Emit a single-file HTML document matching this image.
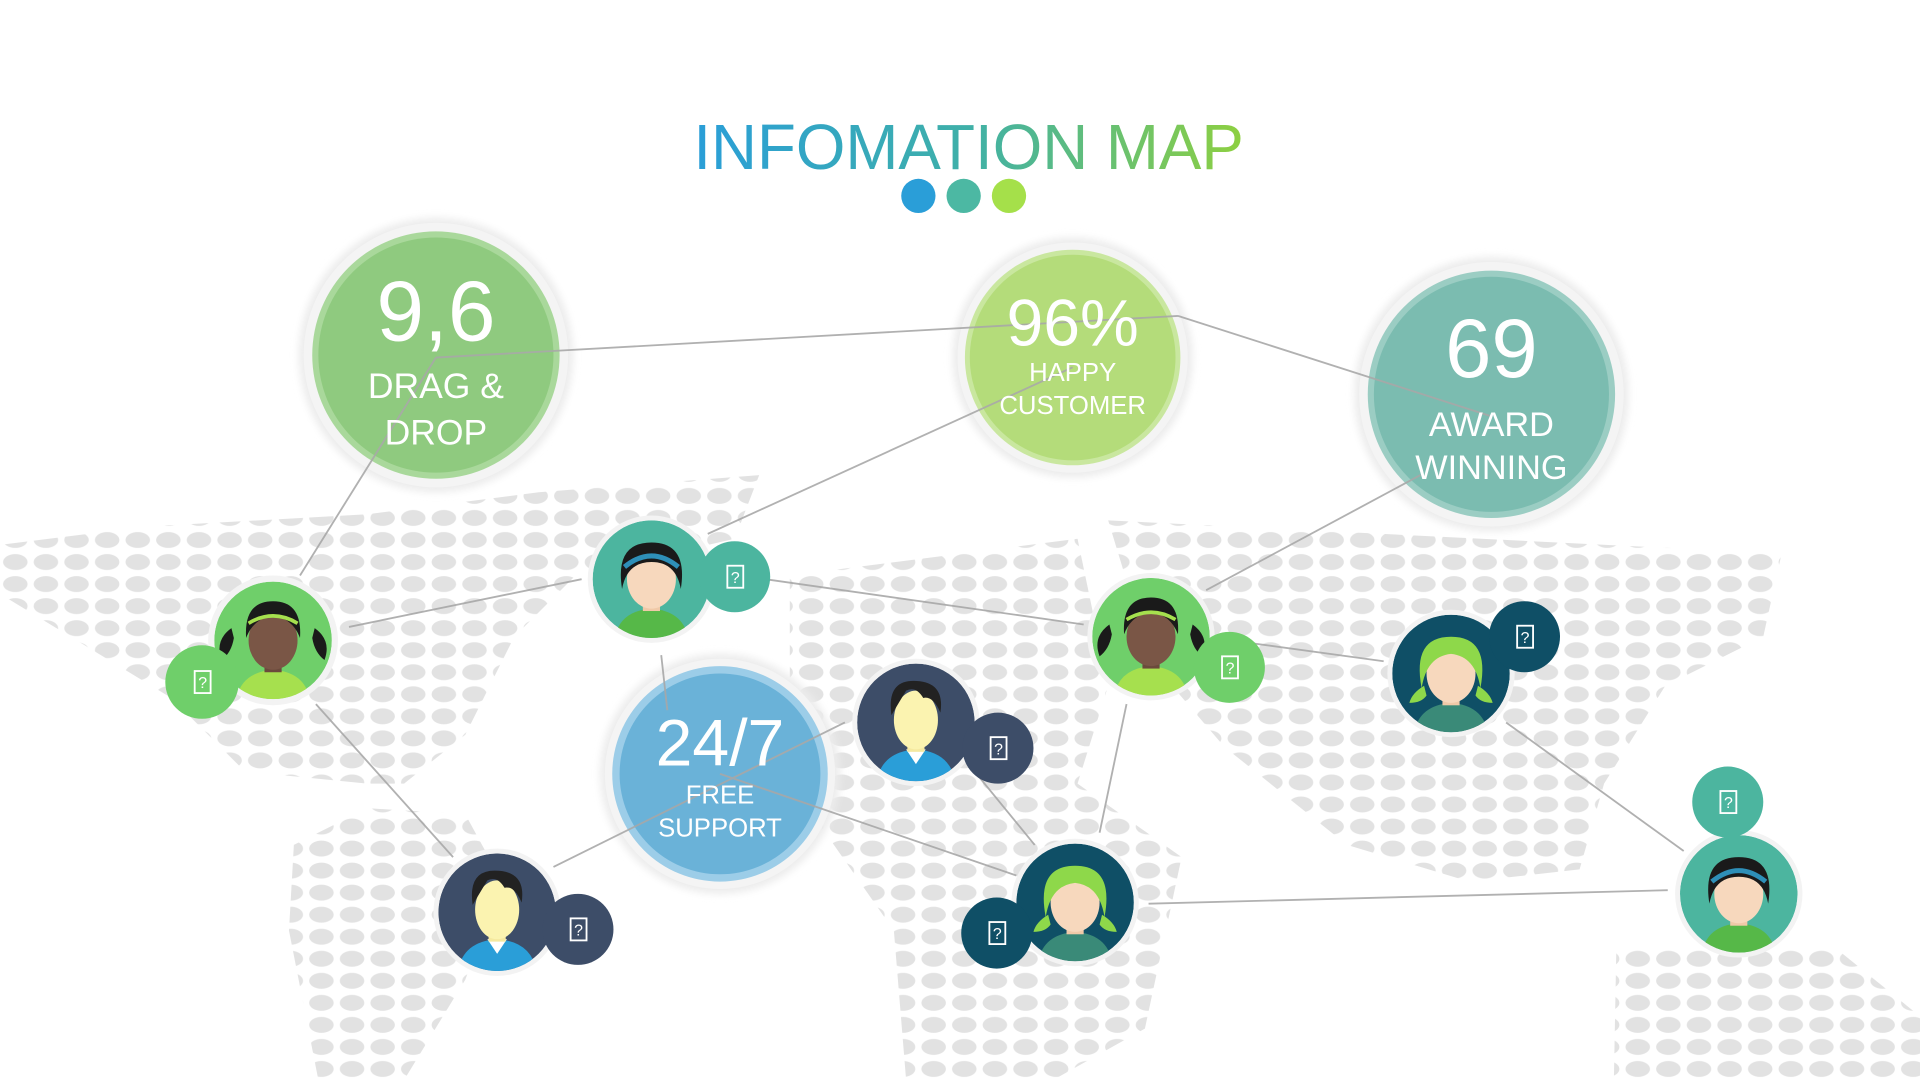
<!DOCTYPE html>
<html><head><meta charset="utf-8"><style>
html,body{margin:0;padding:0;background:#fff;width:1920px;height:1080px;overflow:hidden}
svg{display:block}
text{font-family:"Liberation Sans",sans-serif}
</style></head><body>
<svg width="1920" height="1080" viewBox="0 0 1568 882" xmlns="http://www.w3.org/2000/svg">
<defs>
<pattern id="dots" width="25" height="18" patternUnits="userSpaceOnUse">
<ellipse cx="12.5" cy="9" rx="10" ry="6.5" fill="#e2e2e2"/>
</pattern>
<linearGradient id="tg" x1="0" x2="1"><stop offset="0" stop-color="#2a9ed8"/><stop offset="0.5" stop-color="#3fb0a8"/><stop offset="1" stop-color="#8ed040"/></linearGradient>
<filter id="sh" x="-20%" y="-20%" width="140%" height="140%"><feGaussianBlur stdDeviation="3"/></filter>
<g id="girlP">
<circle r="48" fill="#6fcf6a"/>
<path d="M-34 -10 q-14 10 -8 26 q8 -6 10 -18z M34 -10 q14 10 8 26 q-8 -6 -10 -18z" fill="#1a1a1a"/>
<path d="M-30 48 q4 -22 30 -24 q26 2 30 24z" fill="#a6e04e"/>
<rect x="-7" y="10" width="14" height="16" fill="#6b4a3c"/>
<ellipse cx="0" cy="0" rx="20" ry="24" fill="#7a5646"/>
<path d="M-22 -2 q-2 -30 22 -30 q24 0 22 30 q-6 -16 -22 -18 q-16 2 -22 18z" fill="#1a1a1a"/>
<path d="M-20 -14 q20 -12 40 0" stroke="#a6e04e" stroke-width="3" fill="none"/>
</g>
<g id="girlB">
<path d="M-30 48 q4 -22 30 -24 q26 2 30 24z" fill="#56b848"/>
<rect x="-7" y="10" width="14" height="16" fill="#f0c9a8"/>
<ellipse cx="0" cy="0" rx="20" ry="24" fill="#f7d8bd"/>
<path d="M-24 8 q-6 -38 24 -38 q30 0 24 38 q-4 -22 -24 -22 q-20 0 -24 22z" fill="#1a1a1a"/>
<path d="M-22 -10 q22 -18 44 0" stroke="#2e8fb8" stroke-width="4" fill="none"/>
</g>
<g id="girlG">
<path d="M-30 48 q4 -22 30 -24 q26 2 30 24z" fill="#3a8a78"/>
<rect x="-7" y="10" width="14" height="16" fill="#f0c9a8"/>
<ellipse cx="0" cy="0" rx="20" ry="24" fill="#f7d8bd"/>
<path d="M-24 12 q-8 -42 24 -42 q32 0 24 42 q-4 -26 -24 -28 q-20 2 -24 28z" fill="#8ed84a"/>
<path d="M-22 10 q-10 6 -12 14 q10 0 14 -6z M22 10 q10 6 12 14 q-10 0 -14 -6z" fill="#8ed84a"/>
</g>
<g id="boy">
<path d="M-32 48 q4 -24 32 -26 q28 2 32 26z" fill="#2a9ed8"/>
<path d="M-8 22 l8 12 l8 -12z" fill="#fff"/>
<rect x="-7" y="8" width="14" height="16" fill="#f5e9a0"/>
<ellipse cx="0" cy="-2" rx="18" ry="24" fill="#fbf3b0"/>
<path d="M-20 -6 q-4 -28 18 -28 q26 0 22 26 q-6 -14 -14 -12 q-6 -10 -14 -6 q-6 10 -12 20z" fill="#222"/>
</g>
</defs>

<!-- map dots -->
<g fill="url(#dots)">
<polygon points="0,445 120,430 300,420 440,402 620,388 600,440 470,470 420,520 380,600 330,640 300,640 200,630 140,570 0,485"/>
<polygon points="240,690 300,660 380,665 410,720 380,800 330,882 260,882 236,760"/>
<polygon points="645,470 880,440 905,560 880,640 965,700 935,840 860,882 740,882 730,760 660,660 645,560"/>
<polygon points="905,425 1455,452 1440,520 1360,560 1310,640 1290,710 1200,720 1100,690 1000,610 940,540"/>
<polygon points="1320,775 1500,775 1568,830 1568,882 1318,882"/>
</g>

<!-- title -->
<text x="791" y="138" text-anchor="middle" font-size="52" fill="url(#tg)">INFOMATION MAP</text>
<circle cx="750" cy="160" r="14" fill="#2a9ed8"/>
<circle cx="787" cy="160" r="14" fill="#4cb8a3"/>
<circle cx="824" cy="160" r="14" fill="#a5e04a"/>

<!-- big circles -->
<g>
<circle cx="356" cy="290" r="112" fill="#ececec" filter="url(#sh)"/>
<circle cx="356" cy="290" r="108" fill="#f4f4f4"/>
<circle cx="356" cy="290" r="101" fill="#a9d89b"/>
<circle cx="356" cy="290" r="96" fill="#8fca7f"/>

<circle cx="876" cy="292" r="98" fill="#ececec" filter="url(#sh)"/>
<circle cx="876" cy="292" r="94" fill="#f4f4f4"/>
<circle cx="876" cy="292" r="88" fill="#c9e79f"/>
<circle cx="876" cy="292" r="84" fill="#b4dc7a"/>

<circle cx="1218" cy="322" r="112" fill="#ececec" filter="url(#sh)"/>
<circle cx="1218" cy="322" r="108" fill="#f4f4f4"/>
<circle cx="1218" cy="322" r="101" fill="#9bcdc3"/>
<circle cx="1218" cy="322" r="96" fill="#7bbcb0"/>

<circle cx="588" cy="632" r="98" fill="#ececec" filter="url(#sh)"/>
<circle cx="588" cy="632" r="94" fill="#f4f4f4"/>
<circle cx="588" cy="632" r="88" fill="#9ccde8"/>
<circle cx="588" cy="632" r="82" fill="#6ab2d8"/>
</g>

<!-- lines -->
<g stroke="#a8a8a8" stroke-width="1.5" fill="none" opacity="0.9">
<line x1="356" y1="292" x2="962" y2="258"/>
<line x1="962" y1="258" x2="1218" y2="340"/>
<line x1="356" y1="292" x2="245" y2="470"/>
<line x1="876" y1="300" x2="578" y2="436"/>
<line x1="475" y1="473" x2="285" y2="512"/>
<line x1="625" y1="473" x2="885" y2="510"/>
<line x1="1160" y1="388" x2="985" y2="482"/>
<line x1="1020" y1="525" x2="1130" y2="540"/>
<line x1="258" y1="575" x2="370" y2="700"/>
<line x1="452" y1="708" x2="690" y2="590"/>
<line x1="540" y1="535" x2="545" y2="580"/>
<line x1="588" y1="632" x2="830" y2="715"/>
<line x1="800" y1="635" x2="845" y2="690"/>
<line x1="920" y1="575" x2="898" y2="680"/>
<line x1="938" y1="738" x2="1362" y2="727"/>
<line x1="1230" y1="590" x2="1375" y2="695"/>
</g>

<g fill="#fff" text-anchor="middle">
<text x="356" y="278" font-size="70">9,6</text>
<text x="356" y="325" font-size="29">DRAG &amp;</text>
<text x="356" y="363" font-size="29">DROP</text>
<text x="876" y="282" font-size="54">96%</text>
<text x="876" y="311" font-size="21">HAPPY</text>
<text x="876" y="338" font-size="21">CUSTOMER</text>
<text x="1218" y="308" font-size="68">69</text>
<text x="1218" y="356" font-size="28">AWARD</text>
<text x="1218" y="391" font-size="28">WINNING</text>
<text x="588" y="625" font-size="54">24/7</text>
<text x="588" y="656" font-size="21">FREE</text>
<text x="588" y="683" font-size="21">SUPPORT</text>
</g>

<!-- avatars -->
<g>
<circle cx="223" cy="523" r="53" fill="#f3f3f3"/>
<g transform="translate(223,523)"><clipPath id="c1"><circle r="48"/></clipPath><g clip-path="url(#c1)"><use href="#girlP"/></g></g>
<circle cx="165" cy="557" r="30" fill="#6fcf6a"/>

<circle cx="532" cy="473" r="52" fill="#f3f3f3"/>
<g transform="translate(532,473)"><clipPath id="c2"><circle r="48"/></clipPath><g clip-path="url(#c2)"><circle r="48" fill="#4cb59f"/><use href="#girlB"/></g></g>
<circle cx="600" cy="471" r="29" fill="#4cb59f"/>

<circle cx="940" cy="520" r="52" fill="#f3f3f3"/>
<g transform="translate(940,520)"><clipPath id="c3"><circle r="48"/></clipPath><g clip-path="url(#c3)"><use href="#girlP"/></g></g>
<circle cx="1004" cy="545" r="29" fill="#6fcf6a"/>

<circle cx="1185" cy="550" r="52" fill="#f3f3f3"/>
<g transform="translate(1185,550)"><clipPath id="c4"><circle r="48"/></clipPath><g clip-path="url(#c4)"><circle r="48" fill="#0f4f66"/><use href="#girlG"/></g></g>
<circle cx="1245" cy="520" r="29" fill="#0f4f66"/>

<circle cx="748" cy="590" r="52" fill="#f3f3f3"/>
<g transform="translate(748,590)"><clipPath id="c5"><circle r="48"/></clipPath><g clip-path="url(#c5)"><circle r="48" fill="#3d4d68"/><use href="#boy"/></g></g>
<circle cx="815" cy="611" r="29" fill="#3d4d68"/>

<circle cx="406" cy="745" r="52" fill="#f3f3f3"/>
<g transform="translate(406,745)"><clipPath id="c6"><circle r="48"/></clipPath><g clip-path="url(#c6)"><circle r="48" fill="#3d4d68"/><use href="#boy"/></g></g>
<circle cx="472" cy="759" r="29" fill="#3d4d68"/>

<circle cx="878" cy="737" r="52" fill="#f3f3f3"/>
<g transform="translate(878,737)"><clipPath id="c7"><circle r="48"/></clipPath><g clip-path="url(#c7)"><circle r="48" fill="#0f4f66"/><use href="#girlG"/></g></g>
<circle cx="814" cy="762" r="29" fill="#0f4f66"/>

<circle cx="1420" cy="730" r="52" fill="#f3f3f3"/>
<g transform="translate(1420,730)"><clipPath id="c8"><circle r="48"/></clipPath><g clip-path="url(#c8)"><circle r="48" fill="#4cb59f"/><use href="#girlB"/></g></g>
<circle cx="1411" cy="655" r="29" fill="#4cb59f"/>
</g>

<!-- badge icons -->
<g fill="none" stroke="#fff" stroke-width="1.5">
<rect x="159" y="548" width="13" height="18"/><rect x="594" y="462" width="13" height="18"/><rect x="998" y="536" width="13" height="18"/><rect x="1239" y="511" width="13" height="18"/><rect x="809" y="602" width="13" height="18"/><rect x="466" y="750" width="13" height="18"/><rect x="808" y="753" width="13" height="18"/><rect x="1405" y="646" width="13" height="18"/>
</g>
<g fill="#fff" font-size="13" text-anchor="middle">
<text x="165.5" y="562">?</text><text x="600.5" y="476">?</text><text x="1004.5" y="550">?</text><text x="1245.5" y="525">?</text><text x="815.5" y="616">?</text><text x="472.5" y="764">?</text><text x="814.5" y="767">?</text><text x="1411.5" y="660">?</text>
</g>
</svg>
</body></html>
